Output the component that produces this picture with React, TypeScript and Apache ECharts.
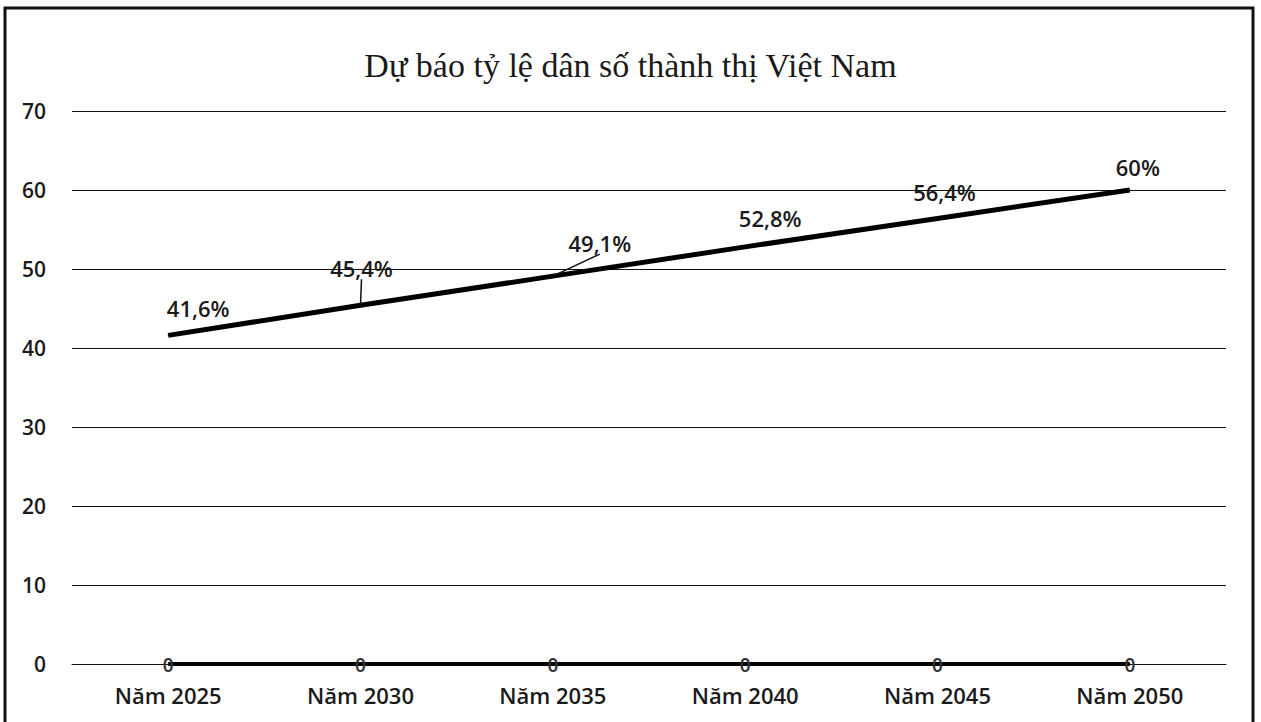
import React, { useEffect, useRef } from "react";
import * as echarts from "echarts";

const categories = ["Năm 2025", "Năm 2030", "Năm 2035", "Năm 2040", "Năm 2045", "Năm 2050"];
const urbanShare = [41.6, 45.4, 49.1, 52.8, 56.4, 60];
const urbanLabels = ["41,6%", "45,4%", "49,1%", "52,8%", "56,4%", "60%"];
const zeroSeries = [0, 0, 0, 0, 0, 0];
const yTicks = { min: 0, max: 70, interval: 10 };
const titleText = "Dự báo tỷ lệ dân số thành thị Việt Nam";

// label displacement from its point (presentation only)
const labelOffsets: [number, number][] = [
  [30, -27],
  [1, -37],
  [47, -33],
  [25, -29],
  [7, -26],
  [8, -23],
];
const leaderLines = [false, true, true, false, false, false];

export default function App() {
  const ref = useRef<HTMLDivElement>(null);
  useEffect(() => {
    document.body.style.margin = "0";
    if (!ref.current) return;
    const chart = echarts.init(ref.current, null, { renderer: "svg" });
    const font = "'Open Sans', 'Noto Sans', sans-serif";
    chart.setOption({
      animation: false,
      backgroundColor: "#fff",
      title: {
        text: titleText,
        left: "center",
        top: 43,
        textStyle: {
          fontFamily: "'Liberation Serif', 'DejaVu Serif', serif",
          fontSize: 34,
          fontWeight: "normal",
          color: "#1a1a1a",
        },
      },
      graphic: [
        {
          type: "rect",
          shape: { x: 5, y: 8, width: 1248, height: 730 },
          style: { fill: "none", stroke: "#111", lineWidth: 3 },
          silent: true,
        },
      ],
      grid: { left: 72, right: 35, top: 111, bottom: 58 },
      xAxis: {
        type: "category",
        data: categories,
        boundaryGap: true,
        axisLine: { show: true, lineStyle: { color: "#111", width: 1 } },
        axisTick: { show: false },
        axisLabel: {
          margin: 20,
          fontFamily: font,
          fontSize: 22,
          fontWeight: 600,
          color: "#1a1a1a",
        },
      },
      yAxis: {
        type: "value",
        min: yTicks.min,
        max: yTicks.max,
        interval: yTicks.interval,
        axisLine: { show: false },
        axisTick: { show: false },
        splitLine: { lineStyle: { color: "#111", width: 1 } },
        axisLabel: {
          margin: 26,
          fontFamily: font,
          fontSize: 21,
          fontWeight: 600,
          color: "#1a1a1a",
        },
      },
      series: [
        {
          type: "line",
          data: zeroSeries,
          symbol: "circle",
          symbolSize: 1,
          itemStyle: { color: "#000" },
          lineStyle: { color: "#000", width: 4 },
          label: {
            show: true,
            position: "top",
            distance: -11,
            formatter: "0",
            fontFamily: font,
            fontSize: 19,
            fontWeight: 600,
            color: "#333",
          },
          z: 3,
        },
        {
          type: "line",
          data: urbanShare.map((v, i) => ({
            value: v,
            label: { offset: labelOffsets[i] },
            labelLine: { show: leaderLines[i] },
          })),
          symbol: "circle",
          symbolSize: 1,
          itemStyle: { color: "#000" },
          lineStyle: { color: "#000", width: 5 },
          label: {
            show: true,
            position: "inside",
            formatter: (p: any) => urbanLabels[p.dataIndex],
            fontFamily: font,
            fontSize: 22,
            fontWeight: 600,
            color: "#1a1a1a",
          },
          labelLine: { lineStyle: { color: "#111", width: 1.5 } },
          z: 4,
        },
      ],
    });
    return () => chart.dispose();
  }, []);
  return <div ref={ref} style={{ width: 1261, height: 722 }} />;
}
